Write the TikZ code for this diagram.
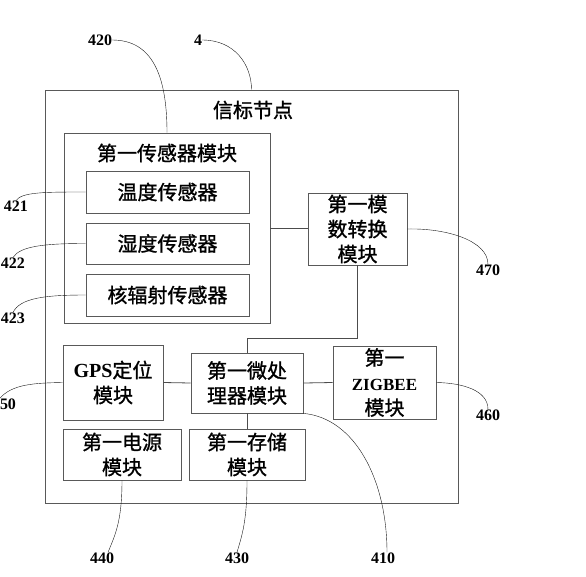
\documentclass[tikz,border=0pt]{standalone}
\usepackage{fontspec}
\usepackage{tikz}
\setmainfont{Liberation Serif}
\newfontfamily\cjk[FakeBold=1.2]{Noto Sans CJK SC}

\tikzset{
  blk/.style={draw, gray!70!black, thick, text=black, inner sep=0pt, align=center,
    font=\cjk\fontsize{20}{25}\selectfont},
  ttl/.style={inner sep=0pt, text=black, align=center, font=\cjk\fontsize{20}{25}\selectfont},
  num/.style={inner sep=0pt, text=black, font=\bfseries\fontsize{16}{18}\selectfont},
  lead/.style={gray!20!black, thin},
  wire/.style={gray!60!black, thick}
}

\begin{document}
\begin{tikzpicture}[x=1pt, y=-1pt]
\useasboundingbox (0,0) rectangle (586,576);
% boxes
\node [blk, minimum width=413pt, minimum height=413pt] (beacon) at (251.5,296.5) {};
\node [ttl] (beacontitle) at (253,110) {信标节点};
\node [blk, minimum width=206pt, minimum height=190pt] (sensmod) at (167,228) {};
\node [ttl] (senstitle) at (167,153) {第一传感器模块};
\node [blk, minimum width=163pt, minimum height=42pt] (temp) at (167.5,192) {温度传感器};
\node [blk, minimum width=163pt, minimum height=41pt] (hum) at (167.5,243.5) {湿度传感器};
\node [blk, minimum width=163pt, minimum height=42pt] (rad) at (167.5,295) {核辐射传感器};
\node [blk, minimum width=99pt, minimum height=72pt] (adc) at (357.5,229) {第一模\\数转换\\模块};
\node [blk, minimum width=100pt, minimum height=75pt] (gps) at (113,382.5) {{\rmfamily\bfseries GPS}定位\\模块};
\node [blk, minimum width=112pt, minimum height=60pt] (mcu) at (247,383) {第一微处\\理器模块};
\node [blk, minimum width=103pt, minimum height=73pt] (zig) at (384.5,382.5) {第一\\{\rmfamily\bfseries\fontsize{17}{25}\selectfont ZIGBEE}\\模块};
\node [blk, minimum width=118pt, minimum height=51pt] (power) at (122,454.5) {第一电源\\模块};
\node [blk, minimum width=116pt, minimum height=51pt] (store) at (247,454.5) {第一存储\\模块};
\coordinate (bus) at (247,338);

% wires
\draw [wire] (sensmod.east) -- (sensmod.east -| adc.west);
\draw [wire] (adc.south) |- (bus) -- (mcu.north);
\draw [wire] (gps.east) -- (mcu.west);
\draw [wire] (mcu.east) -- (zig.west);
\draw [wire] (mcu.south) -- (store.north);

% reference numbers
\node [num] (l420) at (100,40) {420};
\node [num] (l4) at (198,40) {4};
\node [num] (l421) at (16,206) {421};
\node [num] (l422) at (13,263) {422};
\node [num] (l423) at (13,318) {423};
\node [num] (l450) at (8,404) {50};
\node [num] (l470) at (488,270) {470};
\node [num] (l460) at (488,415) {460};
\node [num] (l440) at (102,558) {440};
\node [num] (l430) at (237,558) {430};
\node [num] (l410) at (383,558) {410};

\draw [lead] (l420.east) .. controls (152,40) and (167,75) .. (sensmod.north);
\draw [lead] (l4.east) .. controls (235,40) and (251.5,65) .. (beacon.north);
\draw [lead] (l421.north) .. controls (22,192) and (45,192) .. (temp.west);
\draw [lead] (l422.north) .. controls (20,246) and (45,243.5) .. (hum.west);
\draw [lead] (l423.north) .. controls (20,298) and (45,295) .. (rad.west);
\draw [lead] (l450.north west) .. controls (12,384) and (35,383) .. (gps.west);
\draw [lead] (adc.east) .. controls (445,228) and (488,240) .. (l470.north);
\draw [lead] (zig.east) .. controls (462,383) and (488,390) .. (l460.north);
\draw [lead] (power.south) .. controls (122,522) and (115,535) .. ([xshift=6pt]l440.north);
\draw [lead] (store.south) .. controls (247,522) and (242,535) .. (l430.north);
\draw [lead] (mcu.south east) .. controls (355,418) and (387,480) .. ([xshift=4pt]l410.north);
\end{tikzpicture}
\end{document}
